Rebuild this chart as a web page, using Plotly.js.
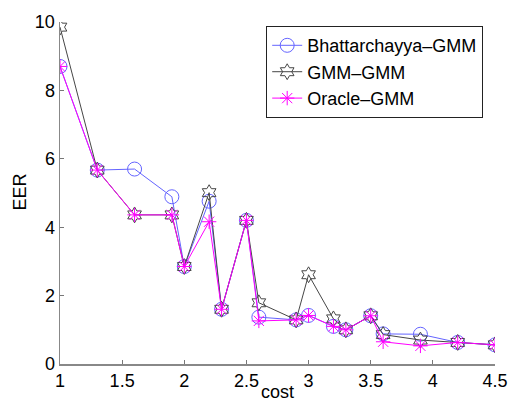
<!DOCTYPE html>
<html>
<head>
<meta charset="utf-8">
<script src="https://cdn.plot.ly/plotly-3.0.1.min.js"></script>
<style>html,body{margin:0;padding:0;background:#fff;}#chart{width:508px;height:407px;}</style>
</head>
<body>
<div id="chart"></div>
<script>
var cost = [1, 1.3, 1.6, 1.9, 2.0, 2.2, 2.3, 2.5, 2.6, 2.9, 3.0, 3.2, 3.3, 3.5, 3.6, 3.9, 4.2, 4.5];
var bhattGMM = [8.7, 5.67, 5.7, 4.89, 2.85, 4.76, 1.6, 4.2, 1.37, 1.29, 1.42, 1.1, 1.0, 1.41, 0.88, 0.87, 0.63, 0.56];
var gmmGMM = [9.85, 5.67, 4.36, 4.36, 2.85, 5.01, 1.6, 4.2, 1.79, 1.29, 2.61, 1.32, 1.0, 1.41, 0.86, 0.70, 0.63, 0.56];
var oracleGMM = [8.7, 5.67, 4.36, 4.36, 2.85, 4.16, 1.6, 4.2, 1.26, 1.29, 1.42, 1.1, 1.0, 1.41, 0.65, 0.53, 0.63, 0.56];
var xTicks = [1, 1.5, 2, 2.5, 3, 3.5, 4, 4.5];
var yTicks = [0, 2, 4, 6, 8, 10];
var xTitle = 'cost';
var yTitle = 'EER';

var font = 'Liberation Sans, Arial, Helvetica, sans-serif';
var traces = [
  {x: cost, y: bhattGMM, name: 'Bhattarchayya\u2013GMM', mode: 'lines+markers',
   line: {color: 'rgb(100,100,255)', width: 1},
   marker: {symbol: 'circle-open', size: 14, color: 'rgb(100,100,255)', line: {width: 1}}},
  {x: cost, y: gmmGMM, name: 'GMM\u2013GMM', mode: 'lines+markers',
   line: {color: 'rgb(70,70,70)', width: 1},
   marker: {symbol: 'hexagram-open', size: 12, color: 'rgb(70,70,70)', line: {width: 1}}},
  {x: cost, y: oracleGMM, name: 'Oracle\u2013GMM', mode: 'lines+markers',
   line: {color: 'rgb(255,0,255)', width: 1},
   marker: {symbol: 'asterisk-open', size: 12, color: 'rgb(255,0,255)', line: {width: 1}}}
];

var layout = {
  width: 508, height: 407,
  margin: {l: 59.5, r: 13, t: 21.5, b: 42.5},
  paper_bgcolor: '#fff', plot_bgcolor: '#fff',
  font: {family: font, size: 18, color: '#000'},
  showlegend: true,
  legend: {x: 0.474, y: 0.988, xanchor: 'left', yanchor: 'top',
           bordercolor: '#222', borderwidth: 1, bgcolor: '#fff',
           font: {family: font, size: 18}, tracegroupgap: 0, itemwidth: 30},
  xaxis: {range: [1, 4.5], tickvals: xTicks, ticktext: xTicks.map(String),
          ticks: 'inside', ticklen: 4, tickcolor: '#777', showline: true, linecolor: '#888', linewidth: 1.5,
          showgrid: false, zeroline: false, mirror: false,
          tickfont: {family: font, size: 18}},
  yaxis: {range: [0, 10], tickvals: yTicks, ticktext: yTicks.map(String),
          ticks: 'inside', ticklen: 4, tickcolor: '#777', showline: true, linecolor: '#888', linewidth: 1.5,
          showgrid: false, zeroline: false, mirror: false,
          tickfont: {family: font, size: 18}},
  annotations: [
    {text: xTitle, xref: 'paper', yref: 'paper', x: 0.5, y: -0.083, xanchor: 'center', yanchor: 'middle',
     showarrow: false, font: {family: font, size: 18}},
    {text: yTitle, xref: 'paper', yref: 'paper', x: -0.093, y: 0.503, xanchor: 'center', yanchor: 'middle',
     textangle: -90, showarrow: false, font: {family: font, size: 18}}
  ]
};
Plotly.newPlot('chart', traces, layout, {displayModeBar: false, staticPlot: true});
</script>
</body>
</html>
